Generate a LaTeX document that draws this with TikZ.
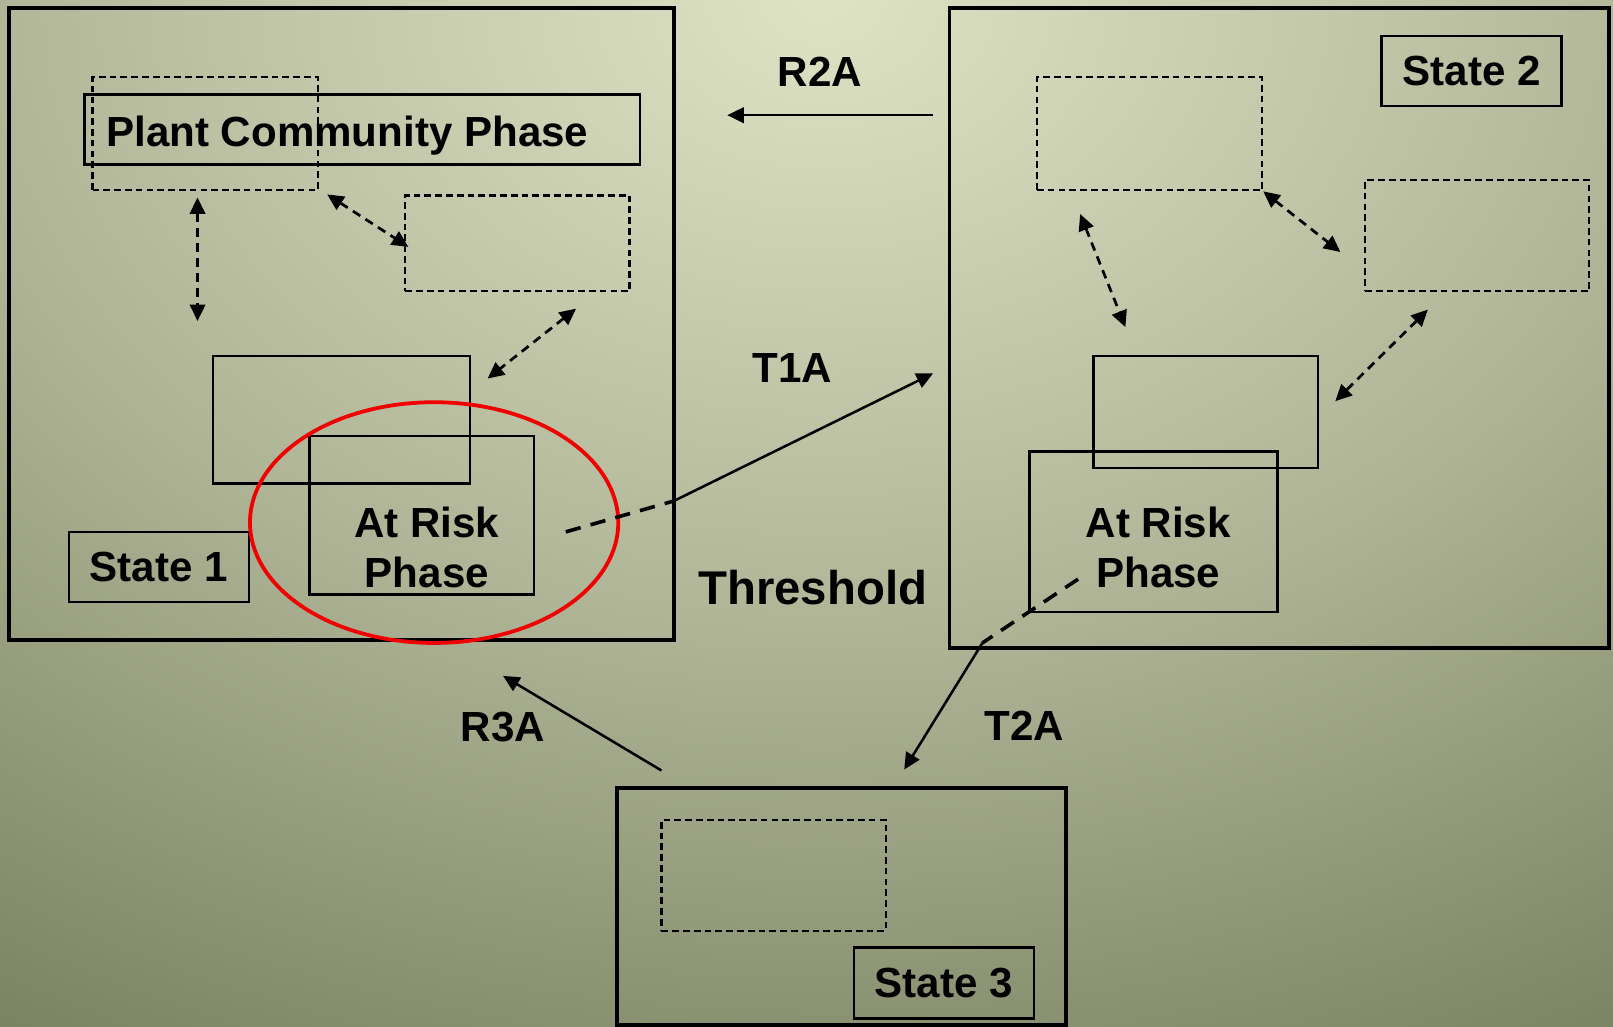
\documentclass[tikz,border=0pt]{standalone}
\usepackage{fontspec}
\setmainfont{Liberation Sans}
\usetikzlibrary{arrows.meta}

\definecolor{bgLight}{RGB}{222, 227, 197}
\definecolor{bgDark}{RGB}{114, 122, 90}
\colorlet{bgMid}{bgLight!55!bgDark}
\pgfdeclareradialshading{bgglow}{\pgfpoint{0bp}{0bp}}{%
    color(0bp)=(bgLight); color(12.5bp)=(bgMid);
    color(25bp)=(bgDark); color(50bp)=(bgDark)}

\tikzset{
    boxsize/.style 2 args={minimum width=#1*0.02cm, minimum height=#2*0.02cm},
    statebox/.style={draw, line width=2.1pt, inner sep=0pt},
    phasebox/.style={draw, line width=1.4pt, inner sep=0pt},
    dashbox/.style={draw, line width=1.2pt, dash pattern=on 0.13cm off 0.08cm, inner sep=0pt},
    txt/.style={font=\bfseries\fontsize{23.3}{28}\selectfont, inner sep=0pt},
    swap/.style={<->, line width=1.5pt, dash pattern=on 0.17cm off 0.12cm},
    trans/.style={->, line width=1.4pt},
    crossing/.style={line width=2pt, dash pattern=on 0.3cm off 0.2cm},
}

\begin{document}
\begin{tikzpicture}[x=0.02cm, y=-0.02cm, >={Triangle[length=0.32cm, width=0.3cm]}]
    % Colours
    \definecolor{ringRed}{RGB}{240, 0, 0}

    % 0. Background
    \useasboundingbox (0,0) rectangle (1568,998);
    \begin{scope}
        \clip (0,0) rectangle (1568,998);
        \shade[shading=bgglow] (800,0) ellipse [x radius=1700, y radius=1250];
    \end{scope}

    % 1. State 1
    \node[statebox, boxsize={646}{614}] (state1) at (332,315) {};
    \node[phasebox, boxsize={540}{68}] (pcp1) at (352,126) {};
    \node[txt, anchor=west] (pcp1txt) at (103,132) {Plant Community Phase};
    \node[dashbox, boxsize={219}{110}] (dash1a) at (199.5,130) {};
    \node[dashbox, boxsize={218}{93}] (dash1b) at (503,236.5) {};
    \node[phasebox, boxsize={250}{124}] (solid1) at (332,408) {};
    \node[phasebox, boxsize={218}{154}] (risk1) at (410,501) {};
    \node[txt, align=center] (risk1txt) at (415,532) {At Risk\\Phase};
    \node[phasebox, boxsize={175}{68}, txt] (label1) at (154.5,551) {State 1};

    \coordinate (a1) at (192,192);  \coordinate (b1) at (192,312);
    \coordinate (a2) at (318,189);  \coordinate (b2) at (397,240);
    \coordinate (a3) at (560,300);  \coordinate (b3) at (474,368);
    \draw[swap] (a1) -- (b1);
    \draw[swap] (a2) -- (b2);
    \draw[swap] (a3) -- (b3);

    \draw[ringRed, line width=2.1pt] (422,508) ellipse [x radius=179, y radius=117];

    % 2. State 2
    \node[statebox, boxsize={641}{622}] (state2) at (1243.5,319) {};
    \node[phasebox, boxsize={175}{68}, txt] (label2) at (1430.5,69) {State 2};
    \node[dashbox, boxsize={219}{110}] (dash2a) at (1117.5,130) {};
    \node[dashbox, boxsize={218}{108}] (dash2b) at (1436,229) {};
    \node[phasebox, boxsize={218}{109}] (solid2) at (1172,400.5) {};
    \node[phasebox, boxsize={241}{156}] (risk2) at (1121.5,517) {};
    \node[txt, align=center] (risk2txt) at (1126,532) {At Risk\\Phase};

    \coordinate (c1) at (1050,208); \coordinate (d1) at (1094,318);
    \coordinate (c2) at (1228,186); \coordinate (d2) at (1303,245);
    \coordinate (c3) at (1388,301); \coordinate (d3) at (1298,390);
    \draw[swap] (c1) -- (d1);
    \draw[swap] (c2) -- (d2);
    \draw[swap] (c3) -- (d3);

    % 3. State 3
    \node[statebox, boxsize={436}{230}] (state3) at (818,881) {};
    \node[dashbox, boxsize={218}{108}] (dash3a) at (752,851) {};
    \node[phasebox, boxsize={175}{69}, txt] (label3) at (917.5,955.5) {State 3};

    % 4. Transitions and restorations
    \coordinate (t1aStart) at (550,517);
    \coordinate (t1aExit) at (655,487);
    \coordinate (t1aEnd) at (907,363);
    \draw[crossing] (t1aStart) -- (t1aExit);
    \draw[trans] (t1aExit) -- (t1aEnd);

    \coordinate (t2aStart) at (1048,563);
    \coordinate (t2aExit) at (955,625);
    \coordinate (t2aEnd) at (879,748);
    \draw[crossing] (t2aStart) -- (t2aExit);
    \draw[trans] (t2aExit) -- (t2aEnd);

    \coordinate (r2aStart) at (907,112);
    \coordinate (r2aEnd) at (707,112);
    \draw[trans] (r2aStart) -- (r2aEnd);

    \coordinate (r3aStart) at (643,749);
    \coordinate (r3aEnd) at (489,657);
    \draw[trans] (r3aStart) -- (r3aEnd);

    % 5. Labels
    \node[txt] (r2a) at (797,70) {R2A};
    \node[txt] (t1a) at (770,358) {T1A};
    \node[txt] (t2a) at (996,706) {T2A};
    \node[txt] (r3a) at (489,707) {R3A};
    \node[font=\bfseries\fontsize{26.2}{31}\selectfont, inner sep=0pt] (thresh) at (790,571) {Threshold};

\end{tikzpicture}
\end{document}
